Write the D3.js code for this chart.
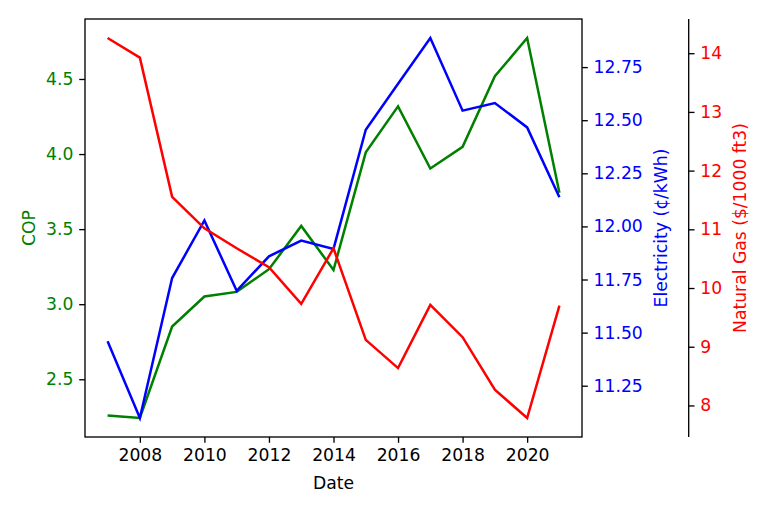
<!DOCTYPE html>
<html><head><meta charset="utf-8">
<script src="https://cdn.jsdelivr.net/npm/d3@7"></script>
<style>body{margin:0;background:#fff}svg{display:block}text{font-family:"DejaVu Sans",sans-serif}</style>
</head><body>
<script>
const years = [2007,2008,2009,2010,2011,2012,2013,2014,2015,2016,2017,2018,2019,2020,2021];
const cop = [2.259,2.242,2.851,3.051,3.082,3.233,3.521,3.228,4.011,4.318,3.904,4.048,4.518,4.773,3.742];
const electricity = [11.459,11.098,11.757,12.028,11.697,11.859,11.933,11.894,12.455,12.672,12.887,12.545,12.581,12.466,12.137];
const gas = [14.259,13.925,11.554,11.017,10.677,10.354,9.730,10.677,9.117,8.636,9.713,9.163,8.267,7.786,9.701];
const xTicks = [2008,2010,2012,2014,2016,2018,2020];
const copTicks = [2.5,3.0,3.5,4.0,4.5];
const elecTicks = [11.25,11.5,11.75,12.0,12.25,12.5,12.75];
const gasTicks = [8,9,10,11,12,13,14];

const W=768,H=512;
const L=85,R=582,T=19,B=437,G=688.7;
const fs=17.2;
const svg=d3.select("body").append("svg").attr("width",W).attr("height",H);

function pad(ext){const r=ext[1]-ext[0];return [ext[0]-0.05*r,ext[1]+0.05*r];}
const x=d3.scaleLinear().domain(pad(d3.extent(years))).range([L,R]);
const yC=d3.scaleLinear().domain(pad(d3.extent(cop))).range([B,T]);
const yE=d3.scaleLinear().domain(pad(d3.extent(electricity))).range([B,T]);
const yG=d3.scaleLinear().domain(pad(d3.extent(gas))).range([B,T]);

function styleAxis(g,color){
  g.select(".domain").remove();
  g.selectAll(".tick line").attr("stroke","#000").attr("stroke-width",1.33);
  g.selectAll(".tick text").attr("fill",color).style("font-size",fs+"px").style("font-family","DejaVu Sans");
}
const tl=5.8, tp=5.8;
const gx=svg.append("g").attr("transform",`translate(0,${B})`)
  .call(d3.axisBottom(x).tickValues(xTicks).tickFormat(d3.format("d")).tickSize(tl).tickPadding(tp));
styleAxis(gx,"#000");
const gc=svg.append("g").attr("transform",`translate(${L},0)`)
  .call(d3.axisLeft(yC).tickValues(copTicks).tickFormat(d3.format(".1f")).tickSize(tl).tickPadding(tp));
styleAxis(gc,"green");
const ge=svg.append("g").attr("transform",`translate(${R},0)`)
  .call(d3.axisRight(yE).tickValues(elecTicks).tickFormat(d3.format(".2f")).tickSize(tl).tickPadding(tp));
styleAxis(ge,"blue");
const gg=svg.append("g").attr("transform",`translate(${G},0)`)
  .call(d3.axisRight(yG).tickValues(gasTicks).tickFormat(d3.format("d")).tickSize(tl).tickPadding(tp));
styleAxis(gg,"red");

function line(vals,ys,color){
  svg.append("path").datum(vals.map((v,i)=>[years[i],v]))
    .attr("fill","none").attr("stroke",color).attr("stroke-width",2.5).attr("stroke-linejoin","miter")
    .attr("d",d3.line().x(d=>x(d[0])).y(d=>ys(d[1])));
}
line(cop,yC,"green");
line(electricity,yE,"blue");
line(gas,yG,"red");

svg.append("rect").attr("x",L).attr("y",T).attr("width",R-L).attr("height",B-T)
  .attr("fill","none").attr("stroke","#000").attr("stroke-width",1.33);
svg.append("line").attr("x1",G).attr("x2",G).attr("y1",T).attr("y2",B).attr("stroke","#000").attr("stroke-width",1.33);

svg.append("text").attr("x",(L+R)/2).attr("y",489).attr("text-anchor","middle").style("font-size",fs+"px").text("Date");
svg.append("text").attr("transform",`translate(35,${(T+B)/2}) rotate(-90)`).attr("text-anchor","middle").attr("fill","green").style("font-size",fs+"px").text("COP");
svg.append("text").attr("transform",`translate(667,${(T+B)/2}) rotate(-90)`).attr("text-anchor","middle").attr("fill","blue").style("font-size",fs+"px").text("Electricity (¢/kWh)");
svg.append("text").attr("transform",`translate(746,${(T+B)/2}) rotate(-90)`).attr("text-anchor","middle").attr("fill","red").style("font-size",fs+"px").text("Natural Gas ($/1000 ft3)");
</script>
</body></html>
